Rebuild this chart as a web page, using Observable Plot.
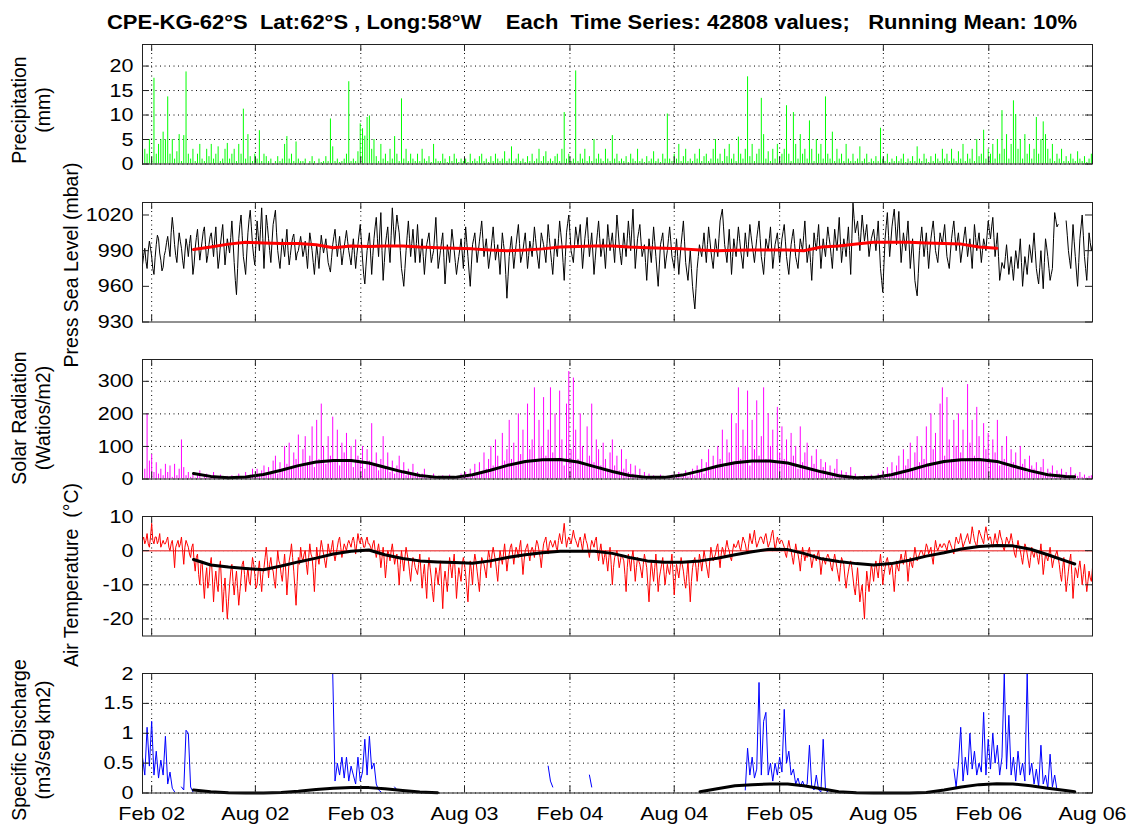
<!DOCTYPE html>
<html><head><meta charset="utf-8">
<script src="https://cdn.jsdelivr.net/npm/d3@7"></script>
<script src="https://cdn.jsdelivr.net/npm/@observablehq/plot@0.6"></script>
<style>
body{margin:0;background:#fff;}
#wrap{position:relative;width:1127px;height:825px;font-family:"Liberation Sans",Arial,sans-serif;color:#000;overflow:hidden;}
.ylab{position:absolute;transform:translate(-50%,-50%) rotate(-90deg);text-align:center;font-size:19.5px;line-height:24px;white-space:pre;}
svg.panel{position:absolute;left:0;}
</style></head><body><div id="wrap"></div>
<script>
// ---------- text ----------
const TITLE = "CPE-KG-62\u00B0S  Lat:62\u00B0S , Long:58\u00B0W    Each  Time Series: 42808 values;   Running Mean: 10%";
const yLabels = [
  ["Precipitation", "(mm)"],
  ["Press Sea Level (mbar)"],
  ["Solar Radiation", "(Watios/m2)"],
  ["Air Temperature  (\u00B0C)"],
  ["Specific Discharge", "(m3/seg km2)"]
];
const xTickDates = ["2002-02-01","2002-08-01","2003-02-01","2003-08-01","2004-02-01","2004-08-01","2005-02-01","2005-08-01","2006-02-01","2006-08-01"];
const xTickLabels = ["Feb 02","Aug 02","Feb 03","Aug 03","Feb 04","Aug 04","Feb 05","Aug 05","Feb 06","Aug 06"];
const X_DOMAIN = ["2002-01-16","2006-08-01"];
const SERIES_START = "2002-01-16";
const STEP_DAYS = 4;      // precipitation, solar, discharge
const FINE_STEP_DAYS = 2; // pressure, air temperature

const precipTicks = [0,5,10,15,20];
const pressTicks = [930,960,990,1020];
const solarTicks = [0,100,200,300];
const tempTicks = [-20,-10,0,10];
const dischargeTicks = [0,0.5,1,1.5,2];

// ---------- series ----------
const precipitation = [
1,3,2,5,1,17.5,2,4,5,6.5,
4.8,13.7,2,5,1,2.5,6,0.5,5.8,18.8,
2,1,3,0.5,2,4,1,0.5,3,1.5,
4,1,2,3.5,0.5,1,3,4.2,1,2,
3,0.5,4,2,11.2,1,6,1.5,0.5,2,
1,6.8,0.5,2,1.5,0.5,1,0,0.5,1.5,
0.5,1,4,5.6,1,2,0.5,4.5,1,0.5,
0.5,1,0,0.5,1.5,0.5,0,1,0.3,0.5,
1.5,0.5,9.2,3.5,0.5,1,0.3,0.5,1,2,
16.8,0.5,1,0.5,2.5,8.2,7.2,5.7,9.5,9.8,
3,5,1.5,0.5,4,1,2,0.5,3,1,
5.6,2,0.5,13.3,1,3,0.5,2,1,0.5,
2,0.5,3,1,0.5,1.5,0.3,4,1,0.5,
0.5,2,1,0.3,1.5,0.5,2,1,0.3,1,
0.5,1,0.3,2,0.5,1,0.5,1.5,2,0.5,
1,0.3,1.5,0.5,2,1,0.5,1,2.5,0.5,
1,3.5,0.5,1,2,0.5,1,0.3,1.5,0.5,
2,0.5,1,3,0.5,1.5,2.5,0.5,1,0.5,
1.5,2,0.5,3,10.5,1,2,0.5,1,19,
0.5,2,1,3,0.5,1.5,0.5,5,1,2,
1,0.5,3,1,0.5,5.8,1,2,0.5,1,
0.5,1.5,0.3,2,1,0.5,3,0.5,1,0.3,
1.5,0.5,1,2.5,0.5,1,0.3,2,1,10.2,
1,0.5,2,1,4,0.5,1.5,3,0.5,1,
0.5,2,1,3,0.5,1.5,2,0.5,1,3,
5,1,2,0.5,3,1.5,4,1,2,0.5,
5.5,2,1,3,17.8,1.5,4,0.5,2,3,
13.4,6,1,2.5,0.5,3,1,4,0.5,2,
3,11.9,2,0.5,10.5,4,1,6,2,3,
1,8.8,3,0.5,5,2,4,1,13.7,2,
1,6.5,0.5,3,1,2,0.5,4,1,0.5,
2,0.5,1,3.5,0.5,1,2,0.3,1,0.5,
1.5,0.5,7.3,1,0.5,2,0.3,1,0.5,1.5,
0.5,1,2,0.3,1,0.5,1.5,0.5,3.5,1,
0.5,2,1,0.3,1.5,0.5,2,1,0.5,3,
1,2,0.5,3,1,0.5,2.5,1,4,0.5,
2,1,3,0.5,5,1.5,2,6.9,1,3,
2,4,1,5,2,10.9,3,6,1,4,
12.9,10.1,3,5,1,6,2,4,1,3,
9.5,2,5,8.6,6,3,1,4,0.5,2,
1,3,0.5,1.5,0.5,2,1,0.5,2.5,1,
0.5,1.5,0.3,1,2
];

const pressure = [
978,986,992,981,975,990,998,992,985,975,970,984,995,1003,1000,988,982,973,976,986,
990,997,1002,993,985,1005,1018,1008,995,986,980,994,1005,998,992,982,975,988,1000,994,
985,996,1003,988,970,978,992,1001,1008,994,982,990,998,1006,1010,995,980,986,995,1002,
1005,996,985,999,1010,990,975,983,995,1004,1012,995,978,989,1000,994,988,1001,1015,998,
980,965,953,975,1000,1012,1020,1003,985,978,970,988,1005,1016,1024,1010,995,985,978,996,
1015,1003,990,1008,1026,1000,975,996,1020,1011,1000,990,980,997,1012,1018,1024,1005,990,982,
975,988,1000,993,985,997,1008,990,978,986,995,1001,1004,993,982,988,990,996,1002,994,
985,990,998,986,975,992,1005,998,990,980,970,983,995,986,975,990,1003,995,988,994,
1000,990,980,976,972,984,995,1002,1008,996,985,994,1002,990,978,986,993,1000,1007,998,
990,984,978,990,1000,987,975,986,995,1004,1012,998,983,970,962,977,990,998,1005,988,
970,986,1000,1010,1018,1000,985,1004,1022,990,965,980,995,1003,1010,993,980,1003,1026,1010,
995,1008,1020,1012,1005,990,975,968,960,975,990,1003,1015,1000,985,996,1008,994,980,996,
1012,995,980,990,1000,985,970,983,995,1000,1005,992,980,985,990,1004,1018,996,975,982,
990,998,1005,984,962,978,995,988,980,994,1008,999,990,980,970,978,985,992,1000,988,
975,992,1010,997,985,972,960,978,995,1000,1005,992,980,989,998,1006,1015,1000,985,993,
1000,988,975,983,990,1000,1010,996,982,989,995,983,970,988,1005,996,988,970,950,968,
985,994,1002,988,975,985,995,1004,1012,996,980,985,990,998,1005,990,975,986,998,992,
985,997,1010,1000,990,982,975,990,1005,1000,995,988,980,996,1012,1001,990,980,970,985,
1000,992,985,1000,1015,1005,995,980,965,985,1005,1013,1020,1005,990,985,980,995,1010,1003,
995,1004,1012,993,975,988,1000,1009,1018,1000,985,995,1005,988,970,982,995,1005,1015,1000,
985,992,1000,988,975,993,1012,1001,990,998,1005,992,980,1000,1020,1008,995,986,978,992,
1005,995,985,1000,1015,1003,990,1008,1025,1000,975,988,1000,1006,1012,998,985,990,995,980,
965,983,1000,990,980,995,1010,998,985,972,960,978,995,1000,1005,990,975,983,990,1000,
1010,998,985,980,975,988,1000,985,970,983,995,1005,1015,998,980,972,965,978,990,975,
960,950,941,958,975,985,995,990,985,995,1005,992,980,995,1010,1000,990,982,975,988,
1000,992,985,1000,1015,1020,1025,1010,995,988,980,994,1008,990,970,985,1000,992,985,998,
1010,1000,990,983,975,990,1005,995,985,998,1012,1003,995,988,980,990,1000,1008,1015,1000,
985,978,970,985,1000,995,990,1000,1010,992,975,985,995,1000,1005,992,980,990,1000,1006,
1012,998,985,977,970,983,995,1002,1008,996,985,980,975,988,1000,995,990,1003,1015,997,
980,988,995,980,965,985,1005,997,990,1001,1012,993,975,988,1000,992,985,998,1010,1002,
995,985,975,992,1008,999,990,1004,1018,998,980,990,1000,993,985,998,1010,990,970,1000,
1030,1017,1005,1010,1015,1002,990,1005,1020,1009,998,1005,1012,998,985,993,1000,1004,1008,999,
990,1002,1015,995,975,965,955,978,1000,1011,1022,1003,985,997,1010,1018,1025,1010,995,1009,
1023,1000,980,993,1005,997,990,1003,1015,995,975,988,1000,983,965,958,952,971,990,1000,
1010,997,985,995,1005,990,975,988,1000,1008,1015,1003,990,985,980,993,1005,1000,995,1004,
1012,998,985,980,975,988,1000,1008,1015,1002,990,998,1005,993,980,988,995,1003,1010,997,
985,993,1000,988,975,994,1012,1001,990,998,1005,992,980,990,1000,995,990,1003,1015,1007,
1000,1010,1018,1001,985,995,1005,985,965,972,980,977,975,985,995,983,970,978,985,975,
965,978,990,983,975,988,1000,980,960,973,985,978,970,983,995,988,980,993,1005,990,
975,968,962,976,990,974,958,980,1000,993,985,975,965,970,975,1000,1022,1016,1010,1012,
null,null,null,null,null,null,1015,1003,990,982,975,993,1012,998,985,972,960,980,1000,1010,
1020,1003,985,975,965,985,1005,997,990,995
];

const solar = [
50,30,200,55,75,20,50,15,30,10,
45,20,40,5,45,10,30,120,35,10,
20,5,15,3,10,25,2,8,15,3,
10,20,2,5,12,1,4,8,2,10,
3,8,15,2,6,20,4,12,30,8,
30,15,25,40,10,35,20,55,70,15,
50,25,100,45,110,30,80,60,135,40,
90,130,50,70,160,35,180,60,230,100,
45,130,70,190,55,150,40,110,80,140,
60,100,35,120,70,50,100,30,90,55,
170,40,80,25,60,130,35,80,20,55,
15,40,70,20,50,10,30,15,45,8,
20,5,15,30,3,10,6,15,2,8,
4,10,2,6,12,1,5,3,8,15,
5,20,8,30,12,45,20,50,15,80,
30,60,100,40,120,70,30,140,55,90,
180,60,110,40,200,75,150,50,230,90,
120,280,60,180,100,250,70,150,280,80,
200,60,270,120,40,230,330,90,310,150,
60,200,100,40,160,70,230,50,120,90,
40,110,60,30,80,120,40,70,25,90,
30,60,20,45,15,40,10,30,5,20,
8,15,3,10,5,2,12,4,8,2,
5,12,3,8,20,4,10,25,6,15,
30,10,40,20,60,15,50,90,30,70,
40,100,60,150,35,120,80,200,50,170,
280,60,150,100,270,40,180,90,240,70,
130,280,60,200,100,150,50,220,80,160,
60,120,40,140,70,100,30,160,50,80,
110,30,70,45,90,20,60,35,50,15,
40,10,30,60,15,25,5,20,10,35,
5,15,3,8,2,10,4,6,12,3,
8,15,5,25,10,35,15,50,20,40,
70,25,90,40,60,110,30,80,130,50,
100,60,160,40,200,90,140,50,230,280,
70,250,120,60,180,100,200,80,150,60,
290,110,180,70,220,130,60,170,90,140,
50,120,80,180,40,100,60,130,35,90,
50,80,30,100,45,60,20,70,40,30,
50,15,35,60,10,30,20,40,8,25,
15,30,5,20,10,35,4,15,8,20,
5,12,3,8,10
];

const airTemp = [
3,4,2,3,5,2,1,4,8,3,2,4,4,2,3,5,1,2,3,2,
2,3,4,1,0,2,3,0,-5,1,2,3,1,2,4,0,-4,1,3,2,
1,-1,-2,1,2,-3,-6,-2,-1,-7,-10,-4,-3,-9,-14,-8,-5,-11,-9,-4,
-2,-8,-15,-9,-6,-10,-12,-5,-3,-10,-18,-12,-8,-14,-20,-15,-10,-6,-4,-9,
-13,-9,-6,-11,-16,-12,-8,-4,-3,-7,-12,-8,-5,-9,-10,-6,-2,-4,-7,-11,
-10,-6,-3,-8,-12,-7,-5,-2,1,-3,-8,-4,-2,-5,-6,-9,-11,-5,0,-3,
-4,-7,-9,-5,-1,-6,-13,-8,-3,-1,2,-2,-6,-11,-16,-9,-2,-4,1,-2,
-3,-1,0,-4,-7,-2,2,-1,-2,-6,-12,-5,1,-2,-4,0,3,1,-1,-3,
-5,-2,2,0,-1,1,3,-1,-3,-1,1,3,4,1,-2,0,2,1,0,2,
3,2,1,3,4,2,-1,2,5,3,2,4,3,1,1,3,4,2,2,1,
0,2,3,0,-2,0,2,-1,-5,-2,1,-3,-8,-4,0,-1,-3,0,2,-1,
-4,-2,-1,-5,-10,-4,0,-3,-6,-2,1,-1,-3,-6,-9,-5,-2,-3,-5,-6,
-7,-4,-1,-6,-11,-7,-4,-9,-14,-6,-2,-5,-8,-12,-15,-9,-5,-7,-10,-6,
-3,-10,-17,-9,-6,-9,-12,-6,-2,-5,-8,-4,-1,-7,-14,-9,-5,-7,-9,-4,
-2,-4,-7,-11,-15,-8,-3,-6,-10,-4,-1,-3,-6,-9,-12,-6,-2,-3,-4,-6,
-8,-3,0,-2,-5,-1,1,-1,-3,-6,-9,-4,0,-2,-4,-1,2,-2,-6,-3,
-1,1,2,-1,-4,-1,1,0,-2,1,3,-2,-7,-3,0,1,2,-1,-3,0,
1,0,-2,1,3,2,0,-2,-5,-1,2,3,4,1,-1,2,3,2,1,2,
3,1,0,3,5,3,2,5,8,4,1,3,4,3,2,4,6,4,3,2,
1,3,4,2,0,3,5,3,2,0,-2,1,3,2,1,3,4,0,-3,0,
2,-1,-4,-2,0,-3,-6,-2,1,-4,-10,-5,-2,-1,0,-2,-5,-3,-1,-2,
-3,-7,-12,-5,-1,-3,-6,-2,0,-4,-9,-5,-2,-3,-4,-6,-8,-4,-1,-3,
-5,-10,-15,-8,-3,-6,-9,-5,-1,-6,-12,-8,-6,-4,-2,-6,-10,-7,-4,-6,
-7,-4,-1,-7,-13,-8,-4,-6,-8,-5,-2,-4,-6,-9,-11,-7,-3,-9,-15,-9,
-5,-3,-2,-5,-9,-5,-1,-3,-6,-3,0,-2,-4,-6,-8,-3,1,-1,-3,-2,
-1,1,2,-2,-5,-1,1,0,-2,1,3,1,0,-2,-3,0,2,1,1,2,
3,1,0,2,4,3,2,0,-1,2,5,3,2,4,6,3,1,2,3,4,
4,3,2,4,5,3,1,2,3,5,6,3,0,2,4,3,2,3,3,2,
1,-1,-2,1,3,1,0,-2,-4,-1,2,0,-1,-3,-6,-2,1,-1,-3,-1,
-2,0,1,-2,-5,-3,-1,-2,-3,-1,0,-3,-7,-4,-2,-3,-4,-2,-1,-2,
-3,-5,-6,-3,-1,-3,-5,-7,-9,-5,-2,-3,-4,-8,-11,-8,-6,-4,-3,-5,
-8,-11,-13,-9,-5,-10,-15,-12,-10,-15,-20,-12,-6,-9,-12,-8,-4,-6,-9,-5,
-3,-6,-8,-4,-1,-5,-10,-7,-5,-3,-2,-4,-7,-5,-4,-8,-12,-7,-3,-5,
-6,-3,-1,-3,-4,-2,0,-4,-9,-5,-2,-4,-5,-2,1,-1,-3,-2,-1,0,
0,-1,-2,0,2,1,-1,0,1,-2,-4,0,3,1,0,1,2,1,1,2,
2,1,0,2,3,2,1,0,-1,2,4,3,2,3,5,3,1,2,3,4,
5,3,2,4,7,5,3,2,1,4,6,5,4,3,2,5,7,5,3,4,
4,2,1,3,5,3,2,4,6,4,3,1,0,2,4,3,2,3,5,3,
1,-1,-2,1,3,1,0,-2,-4,-1,2,1,-1,-3,-5,-2,1,-1,-2,0,
0,-2,-4,-1,2,-2,-7,-4,-1,-2,-3,-1,1,-2,-5,-3,-2,-1,0,-2,
-4,-7,-9,-5,-2,-7,-12,-9,-6,-3,-1,-7,-14,-9,-5,-6,-8,-5,-3,-6,
-10,-7,-4,-8,-12,-9,-6,-8,-9,-5
];

// discharge only exists in melt seasons: start (days after series start) + values every 4 days
const dischargeStartDays = [0, 68, 332, 440, 708, 780, 1052, 1416];
const dischargeSegments = [
  [0.6,0.3,1.1,0.45,1.2,0.3,0.7,0.25,0.55,0.3,0.95,0.15,0.35,0.08,0.02],
  [0.1,0.05,1.05,1.0,0.1,0.02],
  [2.0,0.2,0.5,0.3,0.6,0.25,0.6,0.2,0.45,0.3,0.15,0.6,0.2,0.35,0.9,0.3,0.95,0.4,0.5,0.15,0.05,0.02],
  [0.1,0.05],
  [0.45,0.2,0.1],
  [0.3,0.1],
  [0.05,0.75,0.3,0.6,0.25,0.4,1.85,0.3,1.2,1.35,0.3,0.5,0.2,0.5,0.3,0.6,0.35,1.4,0.5,0.7,0.3,0.4,0.15,0.25,0.1,0.2,0.1,0.15,0.8,0.1,0.05,0.3,0.05,0.02,0.9,0.05,0.02],
  [0.4,0.1,0.5,1.1,0.2,0.6,0.3,1.0,0.4,0.7,0.3,0.5,0.35,1.35,0.3,0.9,0.4,1.0,0.5,0.8,0.3,0.6,2.0,0.4,1.3,0.3,0.6,0.2,0.7,0.3,0.5,0.2,2.0,0.3,0.5,0.15,0.4,0.1,0.8,0.15,0.3,0.08,0.65,0.1,0.3,0.05]
];

// ---------- running means (mid-month, Apr 2002 .. Jun 2006, then 1 Jul 2006) ----------
const pressMean = [
991,993,995.5,997,996.5,996,996,995,992.5,994,993.5,994,
994,993,992.5,992,991.5,990.5,990,990.5,991.5,993,993.5,994,
994,993,992.5,992,991.5,990.6,990,990.3,990.6,990.6,990.5,990,
993,994,995.5,997,997,997,996.5,996,995.5,993,992,null,
null,null,null,null
];
const solarMean = [
17,8,4,6,14,27,41,52,57,57,49,36,
22,11,5,5,13,27,42,54,59,60,52,38,
23,11,5,5,12,25,39,50,55,55,49,36,
22,10,4,5,13,27,42,54,59,60,54,40,
25,13,8,7
];
const tempMean = [
-2.6,-4.2,-4.8,-5.2,-5.6,-4.5,-3.3,-2.2,-1.0,-0.2,0.2,-1.2,
-2.3,-3.0,-3.3,-3.5,-3.7,-3.0,-2.0,-1.2,-0.6,-0.2,-0.2,-0.2,
-0.8,-2.0,-3.0,-3.4,-3.4,-3.0,-2.2,-1.2,-0.3,0.4,0.3,-0.8,
-2.4,-3.2,-3.8,-4.2,-3.8,-2.8,-1.6,-0.6,0.5,1.2,1.5,1.4,
0.4,-1.2,-3.0,-3.9
];
const dischargeMean = [
0.05,0.02,0.005,0,0,0.01,0.03,0.06,0.08,0.09,0.09,0.07,
0.04,0.015,0.005,null,null,null,null,null,null,null,null,null,
null,null,null,null,null,0.02,0.07,0.12,0.14,0.15,0.15,0.12,
0.07,0.02,0.005,0,0,0,0.01,0.05,0.1,0.14,0.155,0.15,
0.12,0.08,0.04,0.02
];

// ---------- build tables ----------
const DAY = 864e5;
const t0 = new Date(SERIES_START).getTime();
const rows = (arr, step, offDays = 0) => arr.map((v, i) => ({date: new Date(t0 + (offDays + i * step) * DAY), v}));
const precipRows = rows(precipitation, STEP_DAYS);
const pressRows = rows(pressure, FINE_STEP_DAYS);
const solarRows = rows(solar, STEP_DAYS);
const tempRows = rows(airTemp, FINE_STEP_DAYS);
const dischargeRows = [];
dischargeSegments.forEach((seg, k) => {
  const r = rows(seg, STEP_DAYS, dischargeStartDays[k]);
  dischargeRows.push(...r, {date: new Date(r[r.length - 1].date.getTime() + DAY), v: null});
});
const meanDates = [];
for (let k = 0; k < 51; k++) meanDates.push(new Date(Date.UTC(2002, 3 + k, 15)));
meanDates.push(new Date(Date.UTC(2006, 6, 1)));
const meanRows = arr => arr.map((v, i) => ({date: meanDates[i], v}));

const xTicks = xTickDates.map(d => new Date(d));
const xLabelMap = new Map(xTicks.map((d, i) => [+d, xTickLabels[i]]));

// ---------- layout ----------
const W = 1127, ML = 142, MR = 35, FRAME_H = 119.5;
const FONT = "'Liberation Sans', Arial, sans-serif";
const wrap = document.getElementById("wrap");

// title
const tsvg = d3.select(wrap).append("svg").attr("width", W).attr("height", 40)
  .style("position", "absolute").style("left", 0).style("top", 0);
tsvg.append("text").attr("x", 107).attr("y", 29).attr("font-family", FONT)
  .attr("font-weight", "bold").attr("font-size", 21).style("white-space", "pre")
  .attr("textLength", 970).attr("lengthAdjust", "spacingAndGlyphs").text(TITLE);

function panel({top, domain, ticks, marks, ygrid = true, bottom = false}) {
  const mt = 6, mb = bottom ? 34 : 6;
  const innerW = W - ML - MR;
  const tick = {stroke: "#222", strokeWidth: 1};
  const svg = Plot.plot({
    width: W, height: FRAME_H + mt + mb,
    marginLeft: ML, marginRight: MR, marginTop: mt, marginBottom: mb,
    style: {fontFamily: FONT, fontSize: "19px", color: "black", background: "transparent", overflow: "visible"},
    x: {type: "utc", domain: X_DOMAIN.map(d => new Date(d)), axis: null},
    y: {domain, axis: null},
    marks: [
      Plot.ruleX(xTicks, {stroke: "black", strokeDasharray: "1,3.5"}),
      ygrid ? Plot.ruleY(ticks, {stroke: "black", strokeDasharray: "1,3.5"}) : null,
      ...marks,
      Plot.tickX(xTicks, {x: d => d, insetTop: FRAME_H - 7, ...tick}),
      Plot.tickX(xTicks, {x: d => d, insetBottom: FRAME_H - 7, ...tick}),
      Plot.tickY(ticks, {y: d => d, insetRight: innerW - 7, ...tick}),
      Plot.tickY(ticks, {y: d => d, insetLeft: innerW - 7, ...tick}),
      Plot.frame({stroke: "#222", strokeWidth: 1}),
      Plot.axisY(ticks, {tickSize: 0, tickPadding: 9, label: null, fontSize: 19, tickFormat: d => String(d)}),
      bottom ? Plot.axisX(xTicks, {tickSize: 0, tickPadding: 13, label: null, fontSize: 19, tickFormat: d => xLabelMap.get(+d)}) : null
    ].filter(Boolean)
  });
  svg.classList.add("panel");
  svg.style.top = (top - mt) + "px";
  wrap.appendChild(svg);
  // the reference's tick labels are slightly wider than Liberation Sans
  svg.querySelectorAll('g[aria-label$="tick label"] text').forEach(t => {
    const len = t.getComputedTextLength();
    if (len > 0) { t.setAttribute("textLength", (len * 1.13).toFixed(1)); t.setAttribute("lengthAdjust", "spacingAndGlyphs"); }
  });
}

panel({top: 43.5, domain: [0, 24.4], ticks: precipTicks, marks: [
  Plot.ruleX(precipRows, {x: "date", y1: 0, y2: "v", stroke: "#00ff00", strokeWidth: 1})
]});
panel({top: 201.5, domain: [930, 1030.5], ticks: pressTicks, ygrid: false, marks: [
  Plot.line(pressRows, {x: "date", y: "v", stroke: "black", strokeWidth: 1}),
  Plot.line(meanRows(pressMean), {x: "date", y: "v", stroke: "#ff0000", strokeWidth: 3})
]});
panel({top: 359, domain: [0, 367], ticks: solarTicks, marks: [
  Plot.ruleX(solarRows, {x: "date", y1: 0, y2: "v", stroke: "#ff00ff", strokeWidth: 1}),
  Plot.line(meanRows(solarMean), {x: "date", y: "v", stroke: "black", strokeWidth: 3})
]});
panel({top: 516, domain: [-25, 10], ticks: tempTicks, marks: [
  Plot.ruleY([0], {stroke: "#f06060", strokeWidth: 1.5}),
  Plot.line(tempRows, {x: "date", y: "v", stroke: "#ff0000", strokeWidth: 1}),
  Plot.line(meanRows(tempMean), {x: "date", y: "v", stroke: "black", strokeWidth: 3})
]});
panel({top: 673.3, domain: [0, 2], ticks: dischargeTicks, bottom: true, marks: [
  Plot.line(dischargeRows, {x: "date", y: "v", stroke: "#0000ff", strokeWidth: 1}),
  Plot.line(meanRows(dischargeMean), {x: "date", y: "v", stroke: "black", strokeWidth: 3})
]});

// y-axis titles
const labelPos = [[31, 110], [71, 265], [31, 418], [71, 575], [31, 740]];
yLabels.forEach((lines, k) => {
  const d = document.createElement("div");
  d.className = "ylab";
  d.style.left = labelPos[k][0] + "px";
  d.style.top = labelPos[k][1] + "px";
  d.textContent = lines.join("\n");
  wrap.appendChild(d);
});
</script></body></html>
